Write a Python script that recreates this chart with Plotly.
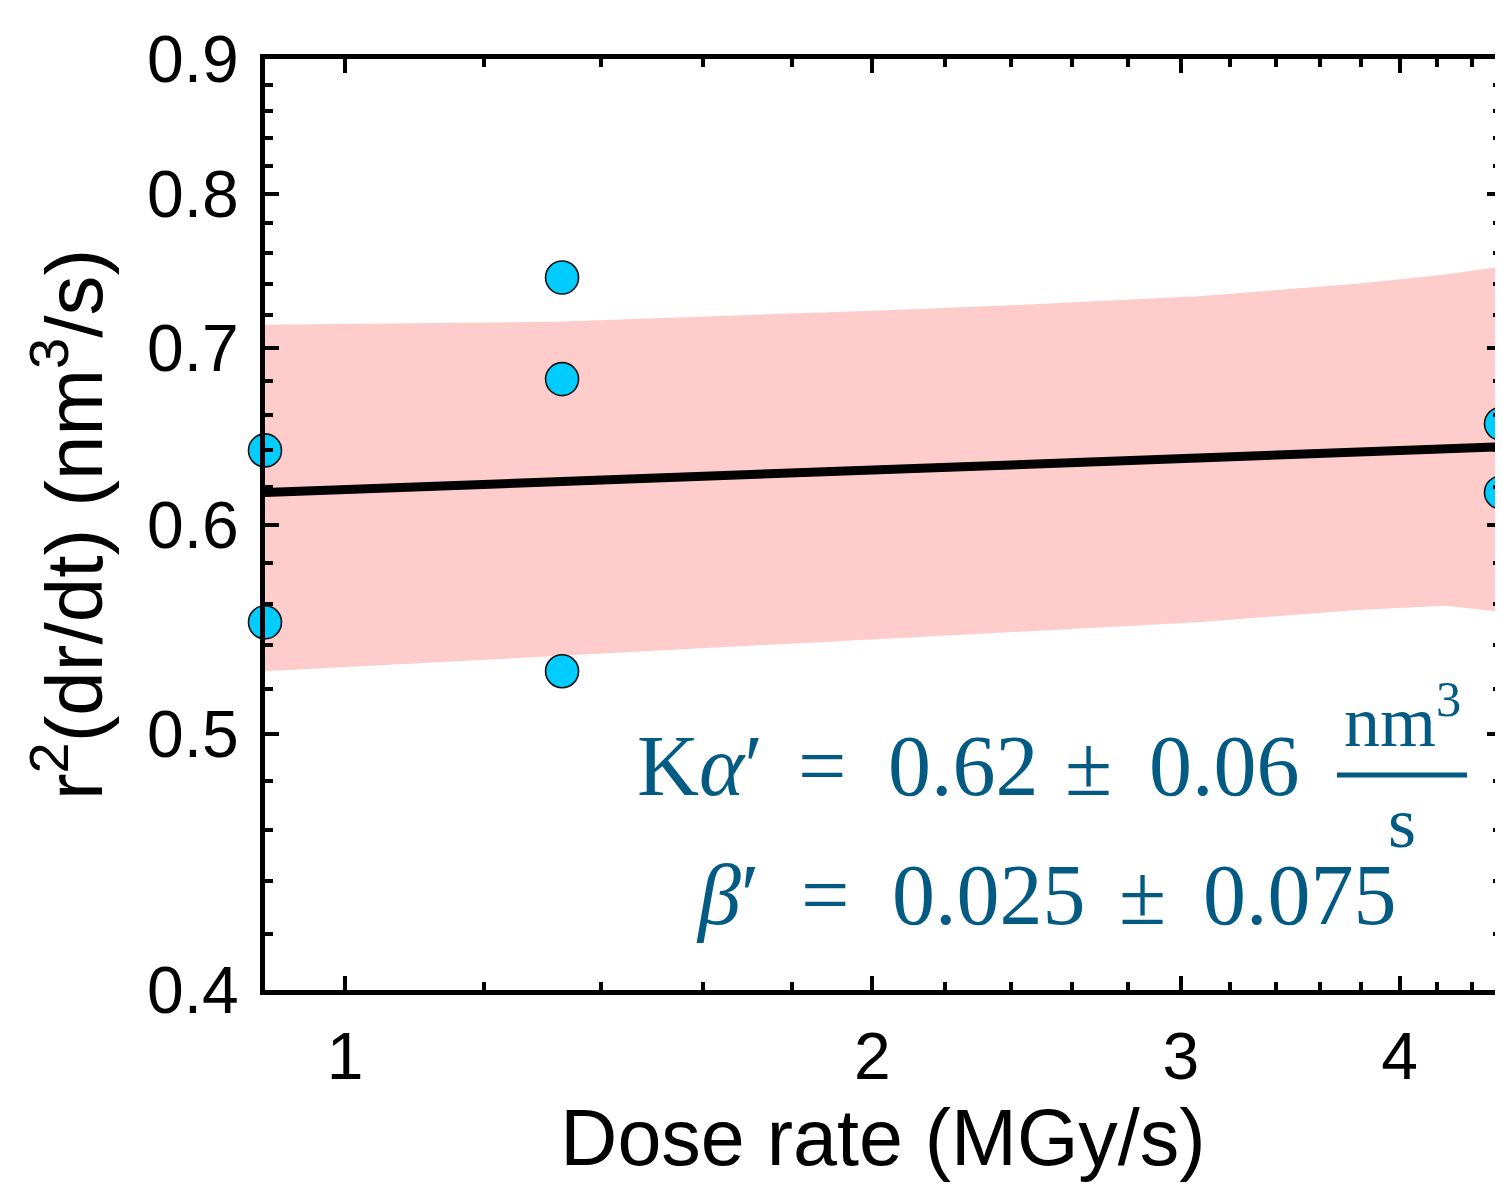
import math
import plotly.graph_objects as go

# ---- data ----
dose_x = [0.9, 0.9, 1.33, 1.33, 1.33, 4.57, 4.57]
rate_y = [0.640, 0.551, 0.744, 0.681, 0.528, 0.655, 0.617]

fit_x = [0.9, 4.57]
fit_y = [0.617, 0.642]

band_x = [0.9, 1.33, 2.02, 2.49, 3.07, 3.78, 4.25, 4.57]
band_upper = [0.714, 0.716, 0.723, 0.727, 0.732, 0.740, 0.746, 0.751]
band_lower = [0.528, 0.535, 0.543, 0.547, 0.551, 0.557, 0.559, 0.556]

x_major = [1, 2, 3, 4]
x_minor = [1.2, 1.4, 1.6, 1.8, 2.2, 2.4, 2.6, 2.8, 3.2, 3.4, 3.6, 3.8, 4.2, 4.4]
y_major = [0.4, 0.5, 0.6, 0.7, 0.8, 0.9]
y_minor = [0.42, 0.44, 0.46, 0.48, 0.52, 0.54, 0.56, 0.58, 0.62, 0.64, 0.66,
           0.68, 0.72, 0.74, 0.76, 0.78, 0.82, 0.84, 0.86, 0.88]

x_range = [0.9, 4.57]
y_range = [0.4, 0.9]

# equation tokens (text, centre x px, line)
eq_line1 = ["K<i>α</i>′", "=", "0.62", "±", "0.06"]
eq_line1_x = [700, 822, 963, 1088, 1224]
eq_line2 = ["<i>β</i>′", "=", "0.025", "±", "0.075"]
eq_line2_x = [728, 825, 989, 1142, 1300]

eq_color = "#035A83"
band_color = "#FFCCCC"
marker_color = "#00CCFF"

fig = go.Figure()

fig.add_trace(go.Scatter(
    x=band_x + band_x[::-1], y=band_upper + band_lower[::-1],
    fill="toself", fillcolor=band_color, line=dict(width=0),
    mode="lines", hoverinfo="skip", showlegend=False))

fig.add_trace(go.Scatter(
    x=fit_x, y=fit_y, mode="lines",
    line=dict(color="black", width=9), showlegend=False))

fig.add_trace(go.Scatter(
    x=dose_x, y=rate_y, mode="markers", cliponaxis=False,
    marker=dict(size=33, color=marker_color, line=dict(color="#111111", width=1.6)),
    showlegend=False))

axis_common = dict(
    type="log", showline=True, linecolor="black", linewidth=5, mirror="ticks",
    ticks="inside", ticklen=14, tickwidth=4, tickcolor="black",
    showgrid=False, zeroline=False, automargin=False,
    tickfont=dict(family="Liberation Sans, Arial", size=66, color="black"),
)

fig.update_xaxes(
    **axis_common,
    range=[math.log10(x_range[0]), math.log10(x_range[1])],
    tickmode="array", tickvals=x_major, ticktext=[str(v) for v in x_major],
    minor=dict(tickmode="array", tickvals=x_minor, ticks="inside", ticklen=8,
               tickwidth=4, tickcolor="black", showgrid=False),
    ticklabelstandoff=5,
    title=dict(text="Dose rate (MGy/s)", standoff=3,
               font=dict(family="Liberation Sans, Arial", size=79, color="black")),
)
fig.update_yaxes(
    **axis_common,
    range=[math.log10(y_range[0]), math.log10(y_range[1])],
    tickmode="array", tickvals=y_major, ticktext=[f"{v:.1f}" for v in y_major],
    minor=dict(tickmode="array", tickvals=y_minor, ticks="inside", ticklen=8,
               tickwidth=4, tickcolor="black", showgrid=False),
    ticklabelstandoff=8,
    title=dict(text="r<sup>2</sup>(dr/dt) (nm<sup>3</sup>/s)", standoff=20,
               font=dict(family="Liberation Sans, Arial", size=80, color="black")),
)

# plot-area edges as seen on screen (the page adds an 8 px body offset)
PAGE_OFF = 8
W0, W1 = 265, 1501
T0, T1 = 59, 990
def px(xp):
    return (xp - W0) / (W1 - W0)
def py(yp):
    return (T1 - yp) / (T1 - T0)

serif = "Liberation Serif, Times New Roman, serif"
for txt, xc in zip(eq_line1, eq_line1_x):
    fig.add_annotation(xref="paper", yref="paper", x=px(xc), y=py(766),
                       text=txt, showarrow=False, xanchor="center", yanchor="middle",
                       font=dict(family=serif, size=86, color=eq_color))
for txt, xc in zip(eq_line2, eq_line2_x):
    fig.add_annotation(xref="paper", yref="paper", x=px(xc), y=py(895),
                       text=txt, showarrow=False, xanchor="center", yanchor="middle",
                       font=dict(family=serif, size=86, color=eq_color))
fig.add_annotation(xref="paper", yref="paper", x=px(1402), y=py(716),
                   text="nm<sup>3</sup>", showarrow=False,
                   xanchor="center", yanchor="middle",
                   font=dict(family=serif, size=72, color=eq_color))
fig.add_annotation(xref="paper", yref="paper", x=px(1402), y=py(823),
                   text="s", showarrow=False,
                   xanchor="center", yanchor="middle",
                   font=dict(family=serif, size=72, color=eq_color))
fig.add_shape(type="line", xref="paper", yref="paper",
              x0=px(1337), x1=px(1467), y0=py(775), y1=py(775),
              line=dict(color=eq_color, width=5))

fig.update_layout(
    width=1503, height=1188,
    margin=dict(l=W0 - PAGE_OFF, r=1503 - (W1 - PAGE_OFF),
                t=T0 - PAGE_OFF, b=1188 - (T1 - PAGE_OFF)),
    plot_bgcolor="white", paper_bgcolor="white",
    showlegend=False,
)

fig.write_html("out.html")
